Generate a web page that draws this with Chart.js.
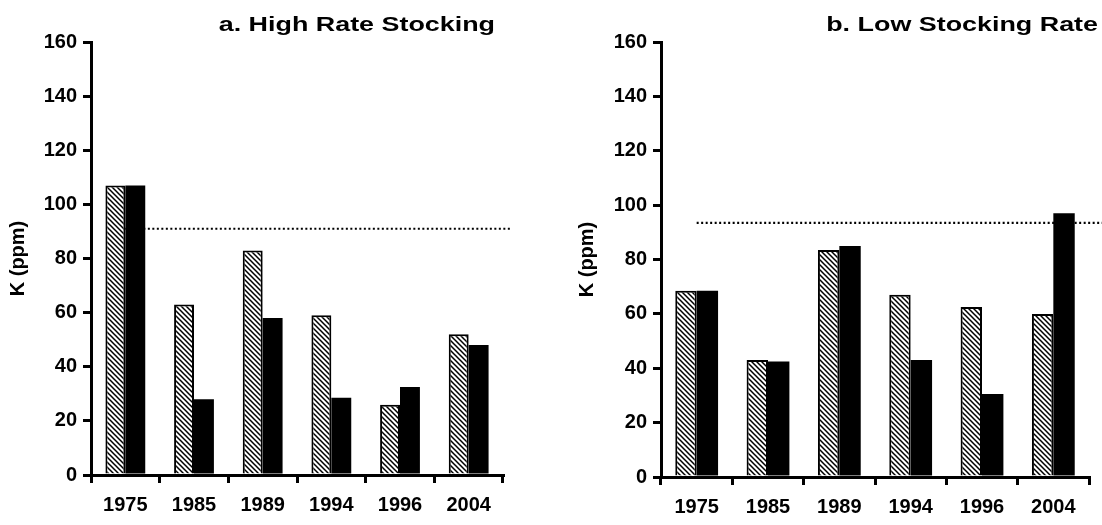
<!DOCTYPE html>
<html>
<head>
<meta charset="utf-8">
<script src="https://cdn.jsdelivr.net/npm/chart.js@4/dist/chart.umd.min.js"></script>
<style>
  html, body { margin: 0; padding: 0; background: #fff; }
  .wrap { position: relative; width: 1102px; height: 525px; }
  #chartHigh { position: absolute; left: 0; top: 0; }
  #chartLow  { position: absolute; left: 550px; top: 0; }
</style>
</head>
<body>
<div class="wrap">
  <canvas id="chartHigh" width="550" height="525"></canvas>
  <canvas id="chartLow" width="552" height="525"></canvas>
</div>
<script>
// K (ppm) theo nam — 2 panel: high / low stocking rate
const years = ['1975', '1985', '1989', '1994', '1996', '2004'];
const yTicks = [0, 20, 40, 60, 80, 100, 120, 140, 160];

const highHatched = [107, 63, 83, 59, 26, 52];
const highBlack   = [107, 28, 58, 28.5, 32.5, 48];
const highRef     = 91;

const lowHatched = [68.5, 43, 83.5, 67, 62.5, 60];
const lowBlack   = [68.5, 42.5, 85, 43, 30.5, 97];
const lowRef     = 93.5;

(function () {
  const $ = (id) => document.getElementById(id);
  const FONT = "'Liberation Sans', Arial, sans-serif";

  // hatch "\" cho cot soc
  function hatch() {
    const s = 5;
    const c = document.createElement('canvas');
    c.width = s; c.height = s;
    const g = c.getContext('2d');
    g.fillStyle = '#fff';
    g.fillRect(0, 0, s, s);
    g.strokeStyle = '#000';
    g.lineWidth = 1.5;
    g.beginPath();
    g.moveTo(-1, -1); g.lineTo(s + 1, s + 1);
    g.moveTo(s - 1, -1); g.lineTo(s + 1, 1);
    g.moveTo(-1, s - 1); g.lineTo(1, s + 1);
    g.stroke();
    return g.createPattern(c, 'repeat');
  }

  // duong cham ngang (gia tri tham chieu), ve sau cot
  const refLine = {
    id: 'refLine',
    beforeDatasetsDraw(chart, args, opts) {
      const { ctx, chartArea, scales } = chart;
      const y = scales.y.getPixelForValue(opts.value);
      const x0 = scales.x.getPixelForValue(0);
      const x1 = opts.toEdge ? chart.width : chartArea.right + 8;
      ctx.save();
      ctx.strokeStyle = '#000';
      ctx.lineWidth = 2.2;
      ctx.setLineDash([2, 2.5]);
      ctx.beginPath();
      ctx.moveTo(x0, y);
      ctx.lineTo(x1, y);
      ctx.stroke();
      ctx.restore();
    },
  };

  // tieu de can phai (chu hoi gian ngang nhu ban scan)
  const panelTitle = {
    id: 'panelTitle',
    afterDraw(chart, args, opts) {
      const { ctx } = chart;
      ctx.save();
      ctx.font = 'bold 21px ' + FONT;
      ctx.fillStyle = '#000';
      ctx.textAlign = 'right';
      ctx.textBaseline = 'middle';
      ctx.translate(opts.right, 25);
      ctx.scale(1.28, 1);
      ctx.fillText(opts.text, 0, 0);
      ctx.restore();
    },
  };

  function makeChart(el, hatched, black, ref, cfg) {
    return new Chart(el, {
      type: 'bar',
      data: {
        labels: years,
        datasets: [
          {
            data: hatched, backgroundColor: hatch(),
            borderColor: '#000', borderWidth: 2, borderSkipped: 'bottom',
          },
          { data: black, backgroundColor: '#000', borderWidth: 0 },
        ],
      },
      options: {
        responsive: false, animation: false,
        categoryPercentage: cfg.catPct, barPercentage: 1.0,
        layout: { padding: { top: 42, right: cfg.padRight, left: 0, bottom: 0 } },
        plugins: {
          legend: { display: false }, tooltip: { enabled: false },
          refLine: { value: ref, toEdge: cfg.toEdge },
          panelTitle: { text: cfg.title, right: cfg.titleRight },
        },
        scales: {
          x: {
            offset: true,
            grid: { offset: true, drawOnChartArea: false, tickLength: 8, color: '#000', lineWidth: 3 },
            border: { display: true, color: '#000', width: 3 },
            ticks: { color: '#000', padding: 10, font: { family: FONT, size: 20, weight: 'bold' } },
            afterFit: (s) => { s.height = cfg.xHeight; },
          },
          y: {
            min: 0, max: 160,
            afterBuildTicks: (s) => { s.ticks = yTicks.map(v => ({ value: v })); },
            grid: { drawOnChartArea: false, tickLength: 8, color: '#000', lineWidth: 3 },
            border: { display: true, color: '#000', width: 3 },
            ticks: { color: '#000', padding: 6, font: { family: FONT, size: 20, weight: 'bold' } },
            title: {
              display: true, text: 'K (ppm)', color: '#000',
              padding: { top: cfg.yTitlePad, bottom: 0 },
              font: { family: FONT, size: 20, weight: 'bold' },
            },
            afterFit: (s) => { s.width = cfg.yWidth; },
          },
        },
      },
      plugins: [refLine, panelTitle],
    });
  }

  function init() {
    makeChart($('chartHigh'), highHatched, highBlack, highRef, {
      title: 'a. High Rate Stocking', titleRight: 495, catPct: 0.58,
      padRight: 47, yWidth: 91, xHeight: 50, yTitlePad: 6, toEdge: false,
    });
    makeChart($('chartLow'), lowHatched, lowBlack, lowRef, {
      title: 'b. Low Stocking Rate', titleRight: 548, catPct: 0.6,
      padRight: 13, yWidth: 111, xHeight: 48, yTitlePad: 25, toEdge: true,
    });
  }

  init();
})();
</script>
</body>
</html>
